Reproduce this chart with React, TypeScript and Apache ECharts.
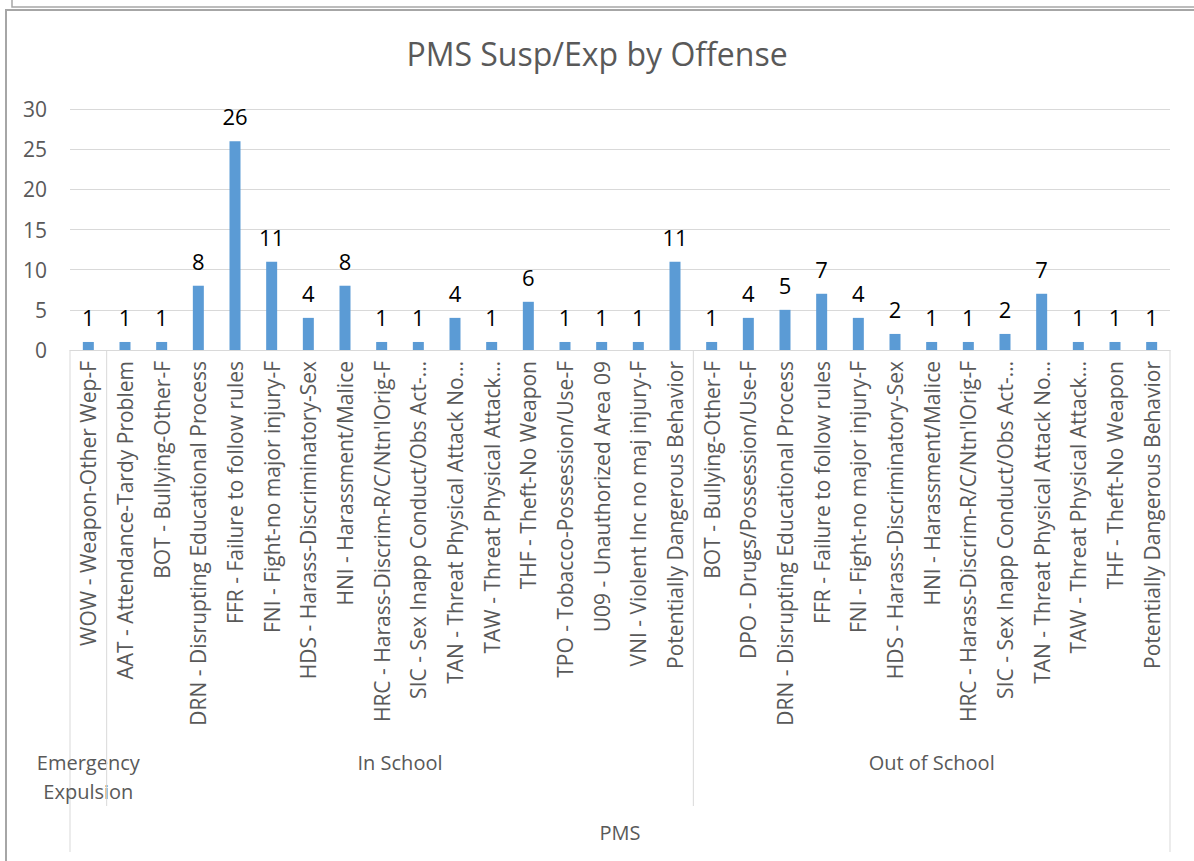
import React, { useEffect, useRef } from "react";
import * as echarts from "echarts";

const titleText = "PMS Susp/Exp by Offense";
const topGroup = "PMS";
const groupNames = ["Emergency\nExpulsion", "In School", "Out of School"];

const emergencyCats = ["WOW - Weapon-Other Wep-F"];
const emergencyVals = [1];

const inSchoolCats = [
  "AAT - Attendance-Tardy Problem",
  "BOT - Bullying-Other-F",
  "DRN - Disrupting Educational Process",
  "FFR - Failure to follow rules",
  "FNI - Fight-no major injury-F",
  "HDS - Harass-Discriminatory-Sex",
  "HNI - Harassment/Malice",
  "HRC - Harass-Discrim-R/C/Ntn'lOrig-F",
  "SIC - Sex Inapp Conduct/Obs Act-…",
  "TAN - Threat Physical Attack No…",
  "TAW - Threat Physical Attack…",
  "THF - Theft-No Weapon",
  "TPO - Tobacco-Possession/Use-F",
  "U09 - Unauthorized Area 09",
  "VNI - Violent Inc no maj injury-F",
  "Potentially Dangerous Behavior",
];
const inSchoolVals = [1, 1, 8, 26, 11, 4, 8, 1, 1, 4, 1, 6, 1, 1, 1, 11];

const outSchoolCats = [
  "BOT - Bullying-Other-F",
  "DPO - Drugs/Possession/Use-F",
  "DRN - Disrupting Educational Process",
  "FFR - Failure to follow rules",
  "FNI - Fight-no major injury-F",
  "HDS - Harass-Discriminatory-Sex",
  "HNI - Harassment/Malice",
  "HRC - Harass-Discrim-R/C/Ntn'lOrig-F",
  "SIC - Sex Inapp Conduct/Obs Act-…",
  "TAN - Threat Physical Attack No…",
  "TAW - Threat Physical Attack…",
  "THF - Theft-No Weapon",
  "Potentially Dangerous Behavior",
];
const outSchoolVals = [1, 4, 5, 7, 4, 2, 1, 1, 2, 7, 1, 1, 1];

const yMin = 0;
const yMax = 30;
const yInterval = 5;

const FONT = "Open Sans";
const GREY = "#595959";
const LINE = "#d9d9d9";

export default function App() {
  const ref = useRef<HTMLDivElement>(null);

  useEffect(() => {
    if (!ref.current) return;
    const chart = echarts.init(ref.current, undefined, { renderer: "svg" });

    const groupCats = [emergencyCats, inSchoolCats, outSchoolCats];
    const groupVals = [emergencyVals, inSchoolVals, outSchoolVals];
    const categories = groupCats.flat();
    const values = groupVals.flat();

    chart.setOption({
      animation: false,
      backgroundColor: "#ffffff",
      title: {
        text: titleText,
        left: "center",
        top: 32,
        textStyle: { fontFamily: FONT, fontSize: 32, fontWeight: "normal", color: GREY },
      },
      grid: { left: 70, top: 109, width: 1100, height: 241, containLabel: false },
      xAxis: {
        type: "category",
        data: categories,
        axisLine: { show: true, lineStyle: { color: LINE, width: 1 } },
        axisTick: { show: false },
        axisLabel: {
          interval: 0,
          rotate: 90,
          margin: 11,
          fontFamily: FONT,
          fontSize: 21,
          color: GREY,
        },
      },
      yAxis: {
        type: "value",
        min: yMin,
        max: yMax,
        interval: yInterval,
        axisLine: { show: false },
        axisTick: { show: false },
        splitLine: { lineStyle: { color: LINE, width: 1 } },
        axisLabel: { fontFamily: FONT, fontSize: 21, color: GREY, margin: 23 },
      },
      series: [
        {
          type: "bar",
          data: values,
          barWidth: 11,
          itemStyle: { color: "#5b9bd5" },
          label: {
            show: true,
            position: "top",
            distance: 14,
            fontFamily: FONT,
            fontSize: 22,
            color: "#000000",
          },
        },
      ],
    });

    // Build group separators and labels from the axis scale
    const px = (i: number) => chart.convertToPixel({ xAxisIndex: 0 }, i) as number;
    const baseY = chart.convertToPixel({ yAxisIndex: 0 }, yMin) as number;
    const step = px(1) - px(0);
    const edge = (i: number) => px(i) - step / 2;
    const n = categories.length;
    const lvl1Bottom = baseY + 456;
    const lvl0Bottom = baseY + 502;
    const lineH = 29;
    const graphic: any[] = [];
    const vline = (x: number, y2: number) => ({
      type: "line",
      shape: { x1: x, y1: baseY, x2: x, y2 },
      style: { stroke: LINE, lineWidth: 1 },
      silent: true,
    });
    graphic.push(vline(edge(0), lvl0Bottom));
    graphic.push(vline(edge(n), lvl0Bottom));
    let start = 0;
    groupCats.forEach((g, gi) => {
      const end = start + g.length;
      if (gi > 0) graphic.push(vline(edge(start), lvl1Bottom));
      const cx = (edge(start) + edge(end)) / 2;
      const nLines = groupNames[gi].split("\n").length;
      graphic.push({
        type: "text",
        x: cx,
        y: baseY + 412 + ((nLines - 1) * lineH) / 2,
        style: {
          text: groupNames[gi],
          fontFamily: FONT,
          fontSize: 20,
          fill: GREY,
          align: "center",
          verticalAlign: "middle",
          lineHeight: lineH,
        },
        silent: true,
      });
      start = end;
    });
    graphic.push({
      type: "text",
      x: (edge(0) + edge(n)) / 2,
      y: baseY + 482,
      style: {
        text: topGroup,
        fontFamily: FONT,
        fontSize: 20,
        fill: GREY,
        align: "center",
        verticalAlign: "middle",
      },
      silent: true,
    });
    // chart frame
    graphic.push({
      type: "polyline",
      shape: { points: [[6, 861], [6, 10], [1194, 10]] },
      style: { stroke: "#a6a6a6", lineWidth: 2, fill: null },
      silent: true,
    });
    graphic.push({
      type: "polyline",
      shape: { points: [[12, 0], [12, 7], [1194, 7]] },
      style: { stroke: "#a6a6a6", lineWidth: 1.5, fill: null },
      silent: true,
    });
    chart.setOption({ graphic });

    return () => chart.dispose();
  }, []);

  return (
    <div
      ref={ref}
      style={{ position: "fixed", left: 0, top: 0, width: 1194, height: 861 }}
    />
  );
}
